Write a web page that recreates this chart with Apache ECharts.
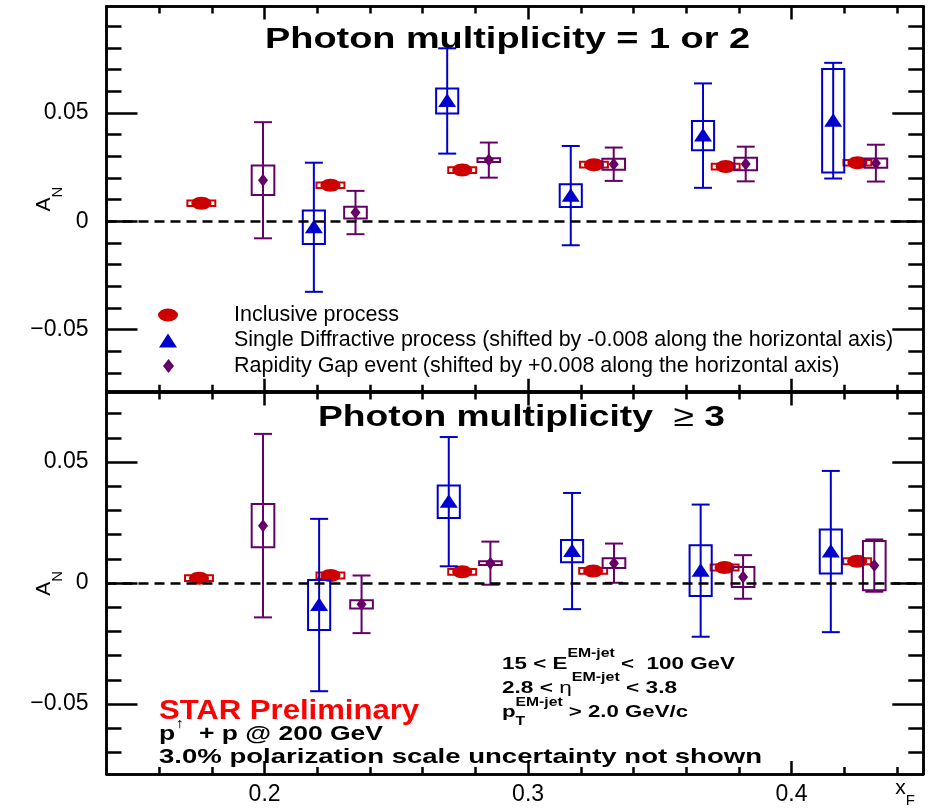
<!DOCTYPE html>
<html>
<head>
<meta charset="utf-8">
<script src="https://cdn.jsdelivr.net/npm/echarts@6/dist/echarts.min.js"></script>
<style>
  html, body { margin: 0; padding: 0; background: #fff; }
  #chart { width: 937px; height: 808px; }
</style>
</head>
<body>
<div id="chart"></div>
<script>
// ---- axis ranges and ticks -------------------------------------------------
const X_MIN = 0.14, X_MAX = 0.45;
const xMajorTicks = [0.2, 0.3, 0.4];
const xTickLabels = ['0.2', '0.3', '0.4'];
const xMinorTicks = [0.16, 0.18, 0.2, 0.22, 0.24, 0.26, 0.28, 0.3, 0.32, 0.34, 0.36, 0.38, 0.4, 0.42, 0.44];

const yRangeTop = [-0.0787, 0.0991];
const yRangeBottom = [-0.0789, 0.0787];
const yMajorTicks = [-0.05, 0, 0.05];
const yTickLabels = ['\u22120.05', '0', '0.05'];
const yMinorTicksTop = [-0.07, -0.06, -0.05, -0.04, -0.03, -0.02, -0.01, 0, 0.01, 0.02, 0.03, 0.04, 0.05, 0.06, 0.07, 0.08, 0.09];
const yMinorTicksBottom = [-0.07, -0.06, -0.05, -0.04, -0.03, -0.02, -0.01, 0, 0.01, 0.02, 0.03, 0.04, 0.05, 0.06, 0.07];

// ---- measurements: [x_F, A_N, stat. error, syst. error] ---------------------
// photon multiplicity = 1 or 2
const inclusive12 = [
  [0.176, 0.0083, 0.0010, 0.0013],
  [0.225, 0.0166, 0.0010, 0.0013],
  [0.275, 0.0236, 0.0010, 0.0013],
  [0.325, 0.0261, 0.0010, 0.0013],
  [0.375, 0.0252, 0.0010, 0.0013],
  [0.425, 0.0270, 0.0010, 0.0013]
];
const diffractive12 = [
  [0.2187, -0.0028, 0.0298, 0.0077],
  [0.2693, 0.0555, 0.0243, 0.0058],
  [0.3162, 0.0118, 0.0229, 0.0052],
  [0.3664, 0.0395, 0.0241, 0.0067],
  [0.4158, 0.0464, 0.0267, 0.0239]
];
const rapidityGap12 = [
  [0.1994, 0.0189, 0.0268, 0.0068],
  [0.2345, 0.0040, 0.0100, 0.0027],
  [0.2851, 0.0282, 0.0081, 0.0009],
  [0.3325, 0.0263, 0.0077, 0.0025],
  [0.3826, 0.0264, 0.0080, 0.0029],
  [0.4320, 0.0268, 0.0085, 0.0021]
];
// photon multiplicity >= 3
const inclusive3 = [
  [0.1751, 0.0020, 0.0010, 0.0012],
  [0.225, 0.0031, 0.0010, 0.0012],
  [0.275, 0.0046, 0.0010, 0.0012],
  [0.3247, 0.0050, 0.0010, 0.0012],
  [0.3746, 0.0064, 0.0010, 0.0012],
  [0.4249, 0.0090, 0.0010, 0.0012]
];
const diffractive3 = [
  [0.2207, -0.0091, 0.0356, 0.0103],
  [0.2699, 0.0336, 0.0267, 0.0067],
  [0.3167, 0.0132, 0.0240, 0.0046],
  [0.3655, 0.0051, 0.0273, 0.0105],
  [0.4149, 0.0130, 0.0333, 0.0091]
];
const rapidityGap3 = [
  [0.1994, 0.0237, 0.0379, 0.0089],
  [0.2368, -0.0088, 0.0119, 0.0017],
  [0.2857, 0.0082, 0.0089, 0.0008],
  [0.3326, 0.0082, 0.0081, 0.0020],
  [0.3816, 0.0025, 0.0090, 0.0041],
  [0.4314, 0.0072, 0.0108, 0.0102]
];

const NAME_INC = 'Inclusive process';
const NAME_SD = 'Single Diffractive process (shifted by -0.008 along the horizontal axis)';
const NAME_RG = 'Rapidity Gap event (shifted by +0.008 along the horizontal axis)';

// ---- styling ---------------------------------------------------------------
const FONT = '"Liberation Sans", Arial, Helvetica, sans-serif';
const RED = '#cc0000', BLUE = '#0000cc', PURPLE = '#660066';
const FRAME_W = 2.5;

// one marker + error bar + systematic box per data item
function pointRenderer(marker, color, boxHalfX, capPx) {
  return function (params, api) {
    const x = api.value(0), y = api.value(1), stat = api.value(2), sys = api.value(3);
    const c = api.coord([x, y]);
    const top = api.coord([x, y + stat])[1];
    const bot = api.coord([x, y - stat])[1];
    const b0 = api.coord([x - boxHalfX, y + sys]);
    const b1 = api.coord([x + boxHalfX, y - sys]);
    const kids = [];
    kids.push({
      type: 'rect',
      shape: { x: b0[0], y: b0[1], width: b1[0] - b0[0], height: b1[1] - b0[1] },
      style: { fill: marker === 'ellipse' ? '#fff' : 'none', stroke: color, lineWidth: 2 }
    });
    kids.push({ type: 'line', shape: { x1: c[0], y1: top, x2: c[0], y2: bot }, style: { stroke: color, lineWidth: 2 } });
    if (capPx) {
      kids.push({ type: 'line', shape: { x1: c[0] - capPx, y1: top, x2: c[0] + capPx, y2: top }, style: { stroke: color, lineWidth: 2 } });
      kids.push({ type: 'line', shape: { x1: c[0] - capPx, y1: bot, x2: c[0] + capPx, y2: bot }, style: { stroke: color, lineWidth: 2 } });
    }
    if (marker === 'ellipse') {
      kids.push({ type: 'ellipse', shape: { cx: c[0], cy: c[1], rx: 10, ry: 6.5 }, style: { fill: color } });
    } else if (marker === 'triangle') {
      kids.push({ type: 'polygon', shape: { points: [[c[0], c[1] - 7.5], [c[0] + 9, c[1] + 6], [c[0] - 9, c[1] + 6]] }, style: { fill: color } });
    } else {
      kids.push({ type: 'polygon', shape: { points: [[c[0], c[1] - 6.5], [c[0] + 5, c[1]], [c[0], c[1] + 6.5], [c[0] - 5, c[1]]] }, style: { fill: color } });
    }
    return { type: 'group', children: kids };
  };
}

function seriesFor(grid, name, data, marker, color, boxHalfX, capPx, withZeroLine) {
  const s = {
    type: 'custom',
    name: name,
    xAxisIndex: grid * 4,
    yAxisIndex: grid * 4,
    data: data,
    encode: { x: 0, y: 1 },
    itemStyle: { color: color },
    clip: false,
    renderItem: pointRenderer(marker, color, boxHalfX, capPx)
  };
  if (withZeroLine) {
    s.markLine = {
      silent: true,
      symbol: ['none', 'none'],
      label: { show: false },
      lineStyle: { color: '#000', width: 2.5, type: [10, 6] },
      data: [{ yAxis: 0 }]
    };
  }
  return s;
}

// four x axes per panel: minor / major ticks on bottom and top
function xAxesFor(grid, withLabels) {
  const base = {
    type: 'value', gridIndex: grid, min: X_MIN, max: X_MAX,
    splitLine: { show: false },
    axisLine: { show: true, onZero: false, lineStyle: { color: '#000', width: FRAME_W } }
  };
  const minorTick = { show: true, inside: true, length: 7, customValues: xMinorTicks, lineStyle: { color: '#000', width: 2.5 } };
  const majorTick = { show: true, inside: true, length: 13, customValues: xMajorTicks, lineStyle: { color: '#000', width: 2.5 } };
  const axes = [
    Object.assign({}, base, { position: 'bottom', axisTick: minorTick, axisLabel: { show: false } }),
    Object.assign({}, base, {
      position: 'bottom', axisTick: majorTick,
      axisLabel: {
        show: withLabels, customValues: xMajorTicks, margin: 9,
        color: '#000', fontFamily: FONT, fontSize: 23,
        formatter: v => xTickLabels[xMajorTicks.findIndex(t => Math.abs(t - v) < 1e-9)]
      }
    }),
    Object.assign({}, base, { position: 'top', axisTick: minorTick, axisLabel: { show: false } }),
    Object.assign({}, base, { position: 'top', axisTick: majorTick, axisLabel: { show: false } })
  ];
  if (withLabels) {
    Object.assign(axes[1], {
      name: '{x|x}{f|F}',
      nameLocation: 'end',
      nameGap: -28,
      nameTextStyle: {
        align: 'left', verticalAlign: 'top', padding: [4, 0, 0, 0], color: '#000',
        rich: {
          x: { fontSize: 21, fontFamily: FONT, color: '#000', verticalAlign: 'bottom', padding: [0, 0, 9, 0] },
          f: { fontSize: 15, fontFamily: FONT, color: '#000', verticalAlign: 'bottom' }
        }
      }
    });
  }
  return axes;
}

// four y axes per panel: minor / major ticks on left and right
function yAxesFor(grid, range, minorTicks) {
  const base = {
    type: 'value', gridIndex: grid, min: range[0], max: range[1],
    splitLine: { show: false },
    axisLine: { show: true, onZero: false, lineStyle: { color: '#000', width: FRAME_W } }
  };
  const minorTick = { show: true, inside: true, length: 15, customValues: minorTicks, lineStyle: { color: '#000', width: 2.5 } };
  const majorTick = { show: true, inside: true, length: 31, customValues: yMajorTicks, lineStyle: { color: '#000', width: 2.5 } };
  return [
    Object.assign({}, base, { position: 'left', axisTick: minorTick, axisLabel: { show: false } }),
    Object.assign({}, base, {
      position: 'left', axisTick: majorTick,
      axisLabel: {
        show: true, customValues: yMajorTicks, margin: 18,
        color: '#000', fontFamily: FONT, fontSize: 23,
        formatter: v => yTickLabels[yMajorTicks.findIndex(t => Math.abs(t - v) < 1e-9)]
      },
      name: '{a|A}{n|N}',
      nameLocation: 'middle',
      nameRotate: 90,
      nameGap: 41,
      nameMoveOverlap: false,
      nameTextStyle: {
        color: '#000',
        rich: {
          a: { fontSize: 21, fontFamily: FONT, color: '#000', verticalAlign: 'bottom', padding: [0, 0, 11, 0] },
          n: { fontSize: 15, fontFamily: FONT, color: '#000', verticalAlign: 'bottom' }
        }
      }
    }),
    Object.assign({}, base, { position: 'right', axisTick: minorTick, axisLabel: { show: false } }),
    Object.assign({}, base, { position: 'right', axisTick: majorTick, axisLabel: { show: false } })
  ];
}

// ---- text annotations (laid out piece by piece, stretched to span) --------
const measureCtx = document.createElement('canvas').getContext('2d');
function textWidth(t, size, weight) {
  measureCtx.font = weight + ' ' + size + 'px ' + FONT;
  return measureCtx.measureText(t).width;
}
function textRun(parts, left, right, y) {
  let x = 0;
  const children = [];
  parts.forEach(p => {
    const weight = p.weight || 'bold';
    children.push({
      type: 'text', x: x, y: p.dy || 0, silent: true,
      style: {
        text: p.t, fontSize: p.size, fontWeight: weight, fontFamily: FONT,
        fill: p.color || '#000', align: 'left', verticalAlign: 'middle'
      }
    });
    if (!p.overlay) x += textWidth(p.t, p.size, weight);
  });
  return { type: 'group', x: left, y: y, scaleX: (right - left) / x, scaleY: 1, silent: true, children: children };
}

const annotations = [
  textRun([{ t: 'Photon multiplicity = 1 or 2', size: 30 }], 265, 750, 40),
  textRun([
    { t: 'Photon multiplicity  ', size: 30 },
    { t: '\u2265', size: 30, weight: 'normal' },
    { t: ' 3', size: 30 }
  ], 318, 725, 418),
  textRun([{ t: 'STAR Preliminary', size: 27, color: '#ff0000' }], 159, 419, 712),
  textRun([
    { t: 'p', size: 20.5 },
    { t: '\u2191', size: 14, weight: 'normal', dy: -10 },
    { t: '  + p @ 200 GeV', size: 20.5 }
  ], 159, 383, 734),
  textRun([{ t: '3.0% polarization scale uncertainty not shown', size: 20.5 }], 159, 762, 757),
  textRun([
    { t: '15 < E', size: 17 },
    { t: 'EM-jet', size: 12, dy: -10 },
    { t: ' <  100 GeV', size: 17 }
  ], 502, 735, 664),
  textRun([
    { t: '2.8 < ', size: 17 },
    { t: '\u03b7', size: 17, weight: 'normal' },
    { t: 'EM-jet', size: 12, dy: -10 },
    { t: ' < 3.8', size: 17 }
  ], 502, 677, 688),
  textRun([
    { t: 'p', size: 17 },
    { t: 'T', size: 12, dy: 10, overlay: true },
    { t: 'EM-jet', size: 12, dy: -9 },
    { t: ' > 2.0 GeV/c', size: 17 }
  ], 502, 688, 712)
];

// ---- legend (one component per entry so every marker sits on the same axis)
const ICON_ELLIPSE = 'path://M0,6.5A10,6.5,0,1,1,20,6.5A10,6.5,0,1,1,0,6.5Z';
const legendText = { fontFamily: FONT, fontSize: 21.5, lineHeight: 22, color: '#000' };
function legendEntry(name, icon, left, iconW, iconH, rowCenter) {
  return {
    orient: 'vertical',
    left: left, top: rowCenter - 11,
    padding: 0,
    itemWidth: iconW, itemHeight: iconH,
    selectedMode: false,
    textStyle: Object.assign({ padding: [0, 0, 0, 234 - (left + iconW + 5)] }, legendText),
    data: [{ name: name, icon: icon }]
  };
}

// ---- chart -------------------------------------------------------------------
const chart = echarts.init(document.getElementById('chart'), null, { renderer: 'canvas' });
chart.setOption({
  animation: false,
  backgroundColor: '#fff',
  grid: [
    { left: 106.5, right: 13.7, top: 6.5, height: 385.2 },
    { left: 106.5, right: 13.7, top: 392.5, height: 385.5 }
  ],
  xAxis: xAxesFor(0, false).concat(xAxesFor(1, true)),
  yAxis: yAxesFor(0, yRangeTop, yMinorTicksTop).concat(yAxesFor(1, yRangeBottom, yMinorTicksBottom)),
  legend: [
    legendEntry(NAME_INC, ICON_ELLIPSE, 158, 20, 13, 315),
    legendEntry(NAME_SD, 'triangle', 159, 18, 14, 340.5),
    legendEntry(NAME_RG, 'diamond', 163, 11, 14, 366)
  ],
  graphic: { elements: annotations },
  series: [
    seriesFor(0, NAME_INC, inclusive12, 'ellipse', RED, 0.0053, 0, true),
    seriesFor(0, NAME_SD, diffractive12, 'triangle', BLUE, 0.0042, 9, false),
    seriesFor(0, NAME_RG, rapidityGap12, 'diamond', PURPLE, 0.0043, 9, false),
    seriesFor(1, NAME_INC, inclusive3, 'ellipse', RED, 0.0053, 0, true),
    seriesFor(1, NAME_SD, diffractive3, 'triangle', BLUE, 0.0042, 9, false),
    seriesFor(1, NAME_RG, rapidityGap3, 'diamond', PURPLE, 0.0043, 9, false)
  ]
});
</script>
</body>
</html>
